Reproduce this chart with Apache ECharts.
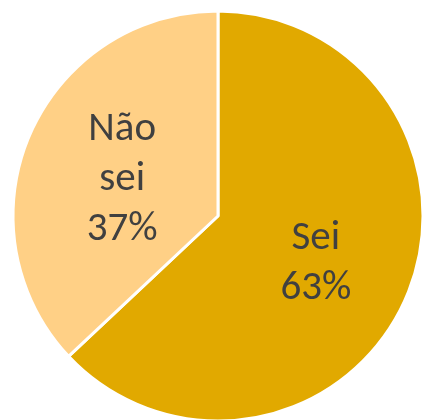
<!DOCTYPE html>
<html>
<head>
<meta charset="utf-8">
<script src="https://cdn.jsdelivr.net/npm/echarts@6/dist/echarts.min.js"></script>
<style>
  html, body { margin: 0; padding: 0; background: #fff; }
  #chart { width: 424px; height: 420px; }
</style>
</head>
<body>
<div id="chart"></div>
<script>
// dados do gráfico
const categories = ['Sei', 'Não sei'];
const values = [63, 37];
const colors = ['#E1A900', '#FFD086'];

const chart = echarts.init(document.getElementById('chart'));

const options = {
    animation: false,
    series: [
        {
            type: 'pie',
            center: [218, 216],
            radius: [0, 205],
            startAngle: 90,
            clockwise: true,
            data: categories.map((name, i) => ({
                name: name,
                value: values[i],
                itemStyle: { color: colors[i] },
            })),
            itemStyle: {
                borderColor: '#fff',
                borderWidth: 3,
            },
            label: {
                show: true,
                position: 'inside',
                formatter: function (p) {
                    // "Não sei" quebra em duas linhas
                    return p.name.replace(' ', '\n') + '\n' + p.value + '%';
                },
                offset: [1, 6],
                fontFamily: 'Carlito, "Liberation Sans Narrow", sans-serif',
                fontSize: 41,
                lineHeight: 50,
                color: '#404040',
            },
            labelLine: { show: false },
            emphasis: { disabled: true },
        },
    ],
};

chart.setOption(options);
</script>
</body>
</html>
